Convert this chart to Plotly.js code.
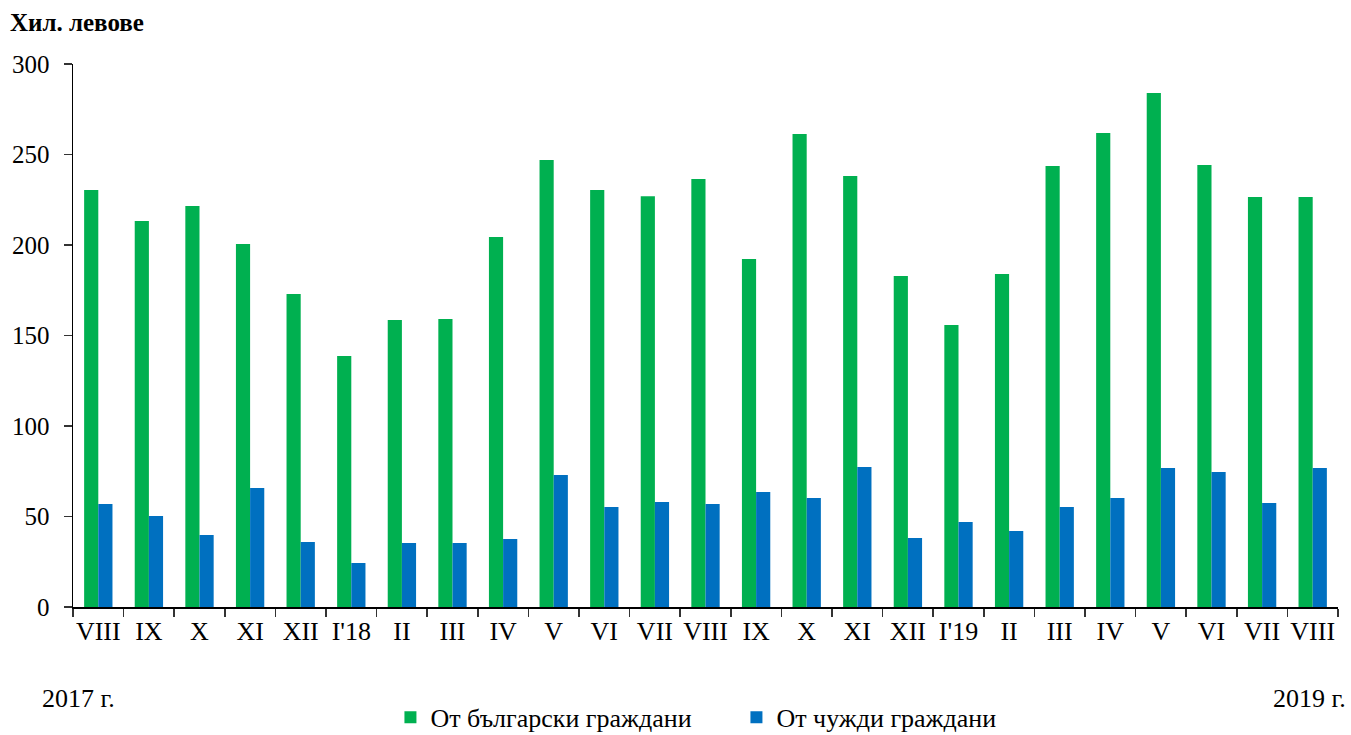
<!DOCTYPE html>
<html>
<head>
<meta charset="utf-8">
<script src="https://cdn.plot.ly/plotly-3.0.1.min.js"></script>
<style>html,body{margin:0;padding:0;background:#fff}#chart{width:1351px;height:735px}</style>
</head>
<body>
<div id="chart"></div>
<script>
const categories = ["VIII","IX","X","XI","XII","I'18","II","III","IV","V","VI","VII","VIII ","IX ","X ","XI ","XII ","I'19","II ","III ","IV ","V ","VI ","VII ","VIII  "];
const tickLabels = ["VIII","IX","X","XI","XII","I'18","II","III","IV","V","VI","VII","VIII","IX","X","XI","XII","I'19","II","III","IV","V","VI","VII","VIII"];
const bulgarian = [230.4,213.3,221.5,200.6,172.9,138.7,158.6,159.1,204.4,247.0,230.4,227.0,236.5,192.3,261.3,238.1,182.9,155.8,184.0,243.6,261.9,284.0,244.2,226.5,226.5];
const foreign = [56.9,50.3,39.8,65.7,35.9,24.3,35.4,35.4,37.6,72.9,55.2,58.0,56.9,63.5,60.2,77.3,38.1,47.0,42.0,55.2,60.2,76.8,74.6,57.5,76.8];
const seriesNames = ["От български граждани","От чужди граждани"];

const font = {family: "Liberation Serif, Times New Roman, serif", size: 25, color: "#000"};
const bigFont = {family: "Liberation Serif, Times New Roman, serif", size: 26, color: "#000"};

const data = [
  {type: "bar", x: categories, y: bulgarian, name: seriesNames[0], marker: {color: "#00B050", line: {width: 0}}},
  {type: "bar", x: categories, y: foreign, name: seriesNames[1], marker: {color: "#0070C0", line: {width: 0}}}
];

const layout = {
  width: 1351, height: 735,
  margin: {l: 73, r: 13, t: 64, b: 128, autoexpand: false},
  paper_bgcolor: "#fff", plot_bgcolor: "#fff",
  font: font,
  barmode: "group", bargap: 0.44, bargroupgap: 0,
  xaxis: {
    type: "category",
    tickvals: categories, ticktext: tickLabels,
    tickson: "boundaries",
    ticks: "outside", ticklen: 8, tickwidth: 1.5, tickcolor: "#333",
    showline: true, linecolor: "#000", linewidth: 1.5,
    showgrid: false, zeroline: false,
    tickfont: bigFont, tickangle: 0
  },
  yaxis: {
    range: [0, 300], dtick: 50,
    ticks: "outside", ticklen: 8, tickwidth: 1.5, tickcolor: "#333",
    showline: true, linecolor: "#000", linewidth: 1.5,
    showgrid: false, zeroline: false,
    tickfont: font, ticklabelstandoff: 9
  },
  showlegend: true,
  legend: {
    orientation: "h", x: 0.289, xanchor: "left", xref: "container",
    y: -0.203, yanchor: "middle", yref: "paper",
    font: bigFont, entrywidth: 301, itemwidth: 30, traceorder: "normal",
    bgcolor: "rgba(0,0,0,0)"
  },
  annotations: [
    {text: "<b>Хил. левове</b>", xref: "paper", yref: "paper", x: -0.051, y: 1.0, yshift: 42, xanchor: "left", yanchor: "middle", showarrow: false, font: {family: font.family, size: 25, color: "#000"}},
    {text: "2017 г.", xref: "paper", yref: "paper", x: -0.026, y: 0, yshift: -91, xanchor: "left", yanchor: "middle", showarrow: false, font: bigFont},
    {text: "2019 г.", xref: "paper", yref: "paper", x: 1.008, y: 0, yshift: -91, xanchor: "right", yanchor: "middle", showarrow: false, font: bigFont}
  ]
};

Plotly.newPlot("chart", data, layout, {displayModeBar: false, staticPlot: true});
</script>
</body>
</html>
